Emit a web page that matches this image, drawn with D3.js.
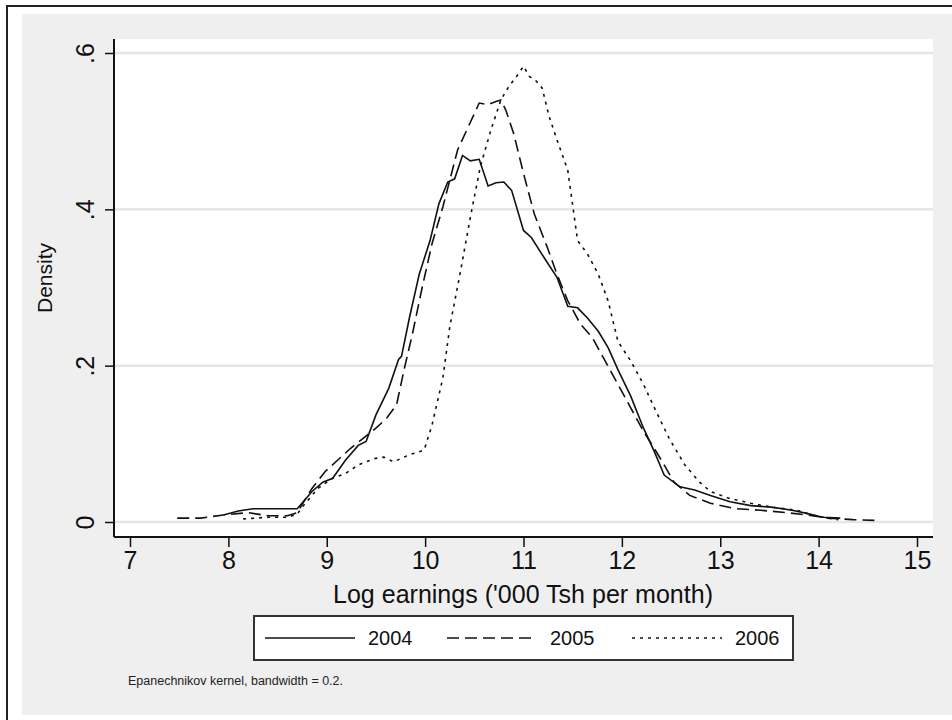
<!DOCTYPE html>
<html>
<head>
<meta charset="utf-8">
<script src="https://cdn.jsdelivr.net/npm/d3@7"></script>
<style>
  body { margin: 0; background: #fff; }
  svg { display: block; font-family: "Liberation Sans", Arial, sans-serif; }
</style>
</head>
<body>
<div id="app"></div>
<script>
// datos (log earnings -> density)
const x2004 = [7.95, 8.1, 8.25, 8.5, 8.7, 8.85, 8.96, 9.06, 9.19, 9.32, 9.40, 9.50, 9.63, 9.73, 9.76, 9.84, 9.94, 10.05, 10.14, 10.23, 10.30, 10.38, 10.46, 10.55, 10.64, 10.72, 10.80, 10.88, 11.00, 11.08, 11.21, 11.34, 11.45, 11.55, 11.65, 11.76, 11.86, 11.96, 12.09, 12.22, 12.33, 12.43, 12.59, 12.74, 12.90, 13.10, 13.31, 13.52, 13.73, 13.88, 14.04, 14.22]
const d2004 = [0.009, 0.014, 0.017, 0.017, 0.017, 0.039, 0.051, 0.056, 0.079, 0.098, 0.103, 0.137, 0.171, 0.208, 0.212, 0.261, 0.317, 0.360, 0.407, 0.435, 0.439, 0.469, 0.462, 0.464, 0.430, 0.434, 0.435, 0.424, 0.373, 0.364, 0.338, 0.313, 0.276, 0.274, 0.261, 0.244, 0.223, 0.195, 0.161, 0.120, 0.090, 0.060, 0.045, 0.041, 0.034, 0.026, 0.021, 0.019, 0.015, 0.011, 0.006, 0.005]

const x2005 = [7.48, 7.72, 7.95, 8.2, 8.4, 8.6, 8.7, 8.85, 8.98, 9.11, 9.24, 9.37, 9.50, 9.61, 9.71, 9.79, 9.87, 9.97, 10.07, 10.18, 10.25, 10.33, 10.44, 10.51, 10.55, 10.64, 10.72, 10.77, 10.82, 10.90, 11.00, 11.11, 11.24, 11.34, 11.45, 11.58, 11.70, 11.83, 11.96, 12.09, 12.22, 12.33, 12.43, 12.53, 12.69, 12.90, 13.16, 13.41, 13.67, 13.88, 14.09, 14.35, 14.58]
const d2005 = [0.005, 0.005, 0.009, 0.012, 0.008, 0.008, 0.012, 0.043, 0.064, 0.079, 0.094, 0.107, 0.120, 0.133, 0.150, 0.197, 0.240, 0.300, 0.356, 0.403, 0.437, 0.476, 0.506, 0.525, 0.536, 0.534, 0.538, 0.540, 0.527, 0.497, 0.446, 0.394, 0.352, 0.317, 0.283, 0.253, 0.236, 0.206, 0.176, 0.146, 0.116, 0.094, 0.073, 0.051, 0.034, 0.024, 0.017, 0.015, 0.012, 0.009, 0.005, 0.003, 0.002]

const x2006 = [8.15, 8.4, 8.6, 8.7, 8.75, 8.91, 9.06, 9.19, 9.32, 9.48, 9.58, 9.68, 9.84, 9.99, 10.07, 10.18, 10.25, 10.36, 10.46, 10.56, 10.67, 10.77, 10.85, 10.93, 11.00, 11.06, 11.13, 11.19, 11.26, 11.34, 11.45, 11.55, 11.65, 11.76, 11.86, 11.96, 12.09, 12.22, 12.35, 12.48, 12.64, 12.79, 12.90, 13.10, 13.31, 13.52, 13.78, 13.93, 14.09, 14.2]
const d2006 = [0.004, 0.006, 0.006, 0.010, 0.019, 0.043, 0.056, 0.062, 0.073, 0.081, 0.083, 0.077, 0.086, 0.092, 0.124, 0.184, 0.249, 0.321, 0.390, 0.454, 0.502, 0.540, 0.557, 0.570, 0.583, 0.570, 0.564, 0.555, 0.519, 0.489, 0.450, 0.360, 0.343, 0.317, 0.283, 0.231, 0.206, 0.176, 0.141, 0.107, 0.073, 0.051, 0.039, 0.030, 0.024, 0.019, 0.015, 0.009, 0.005, 0.003]

const xTicks = [7, 8, 9, 10, 11, 12, 13, 14, 15]
const yTicks = [0, 0.2, 0.4, 0.6]
const years = ['2004', '2005', '2006']
const dashes = [null, '12,6', '3,5']

const w = 952
const h = 720

const svg = d3.select('#app')
  .append('svg')
  .attr('width', w)
  .attr('height', h)

// marco exterior y fondo gris
svg.append('rect')
  .attr('x', 7).attr('y', 6)
  .attr('width', 990).attr('height', 740)
  .attr('fill', '#fff')
  .attr('stroke', '#222')
  .attr('stroke-width', 2)

svg.append('rect')
  .attr('x', 22).attr('y', 14)
  .attr('width', 940).attr('height', 701)
  .attr('fill', '#efefef')

// escalas
const xScale = d3.scaleLinear()
  .domain([7, 15])
  .range([130, 917])

const yScale = d3.scaleLinear()
  .domain([0, 0.6])
  .range([522, 53])

const plotLeft = 114
const plotRight = 933
const plotTop = 39
const plotBottom = 537

svg.append('rect')
  .attr('x', plotLeft).attr('y', plotTop)
  .attr('width', plotRight - plotLeft)
  .attr('height', plotBottom - plotTop)
  .attr('fill', '#fff')

// grid
svg.append('g')
  .selectAll('line')
  .data(yTicks)
  .enter()
  .append('line')
  .attr('x1', plotLeft)
  .attr('x2', plotRight)
  .attr('y1', d => yScale(d))
  .attr('y2', d => yScale(d))
  .attr('stroke', '#e6e6e6')
  .attr('stroke-width', 2.5)

// lineas
const series = [
  x2004.map((v, i) => [v, d2004[i]]),
  x2005.map((v, i) => [v, d2005[i]]),
  x2006.map((v, i) => [v, d2006[i]])
]

const line = d3.line()
  .x(d => xScale(d[0]))
  .y(d => yScale(d[1]))

svg.append('g')
  .selectAll('path')
  .data(series)
  .enter()
  .append('path')
  .attr('d', line)
  .attr('fill', 'none')
  .attr('stroke', '#111')
  .attr('stroke-width', 1.6)
  .attr('stroke-dasharray', (d, i) => dashes[i])

// ejes
const xAxis = d3.axisBottom(xScale)
  .tickValues(xTicks)
  .tickSize(10)
  .tickSizeOuter(0)
  .tickFormat(d3.format('d'))

const gx = svg.append('g')
  .attr('transform', `translate(0, ${plotBottom})`)
  .call(xAxis)
gx.select('.domain').remove()
gx.selectAll('line').attr('stroke', '#111').attr('stroke-width', 1.5)
gx.selectAll('text')
  .attr('fill', '#111')
  .attr('font-size', 25)
  .attr('y', 14)
  .attr('font-family', '"Liberation Sans", Arial, sans-serif')

svg.append('line')
  .attr('x1', plotLeft).attr('x2', plotRight)
  .attr('y1', plotBottom).attr('y2', plotBottom)
  .attr('stroke', '#111').attr('stroke-width', 2)

const yAxis = d3.axisLeft(yScale)
  .tickValues(yTicks)
  .tickSize(9)
  .tickSizeOuter(0)
  .tickFormat(d => d === 0 ? '0' : d3.format('.1f')(d).replace(/^0/, ''))

const gy = svg.append('g')
  .attr('transform', `translate(${plotLeft}, 0)`)
  .call(yAxis)
gy.select('.domain').remove()
gy.selectAll('line').attr('stroke', '#111').attr('stroke-width', 1.5)
gy.selectAll('text')
  .attr('fill', '#111')
  .attr('font-size', 25)
  .attr('font-family', '"Liberation Sans", Arial, sans-serif')
  .attr('x', null)
  .attr('dy', null)
  .attr('text-anchor', 'middle')
  .attr('transform', 'translate(-20, 0) rotate(-90)')

svg.append('line')
  .attr('x1', plotLeft).attr('x2', plotLeft)
  .attr('y1', plotTop).attr('y2', plotBottom)
  .attr('stroke', '#111').attr('stroke-width', 2)

// titulos de ejes
svg.append('text')
  .attr('x', 523)
  .attr('y', 603)
  .attr('text-anchor', 'middle')
  .attr('font-size', 25)
  .attr('fill', '#111')
  .attr('textLength', 380)
  .attr('lengthAdjust', 'spacingAndGlyphs')
  .text("Log earnings ('000 Tsh per month)")

svg.append('text')
  .attr('transform', 'translate(52, 278) rotate(-90)')
  .attr('text-anchor', 'middle')
  .attr('font-size', 21)
  .attr('fill', '#111')
  .text('Density')

// leyenda
const legend = svg.append('g')

legend.append('rect')
  .attr('x', 254).attr('y', 616)
  .attr('width', 539).attr('height', 44)
  .attr('fill', '#fff')
  .attr('stroke', '#333')
  .attr('stroke-width', 2)

const legendX = [265, 447, 632]

const items = legend.selectAll('g.item')
  .data(years)
  .enter()
  .append('g')
  .attr('class', 'item')
  .attr('transform', (d, i) => `translate(${legendX[i]}, 0)`)

items.append('line')
  .attr('x1', 0).attr('x2', 90)
  .attr('y1', 638).attr('y2', 638)
  .attr('stroke', '#111')
  .attr('stroke-width', 1.6)
  .attr('stroke-dasharray', (d, i) => dashes[i])

items.append('text')
  .attr('x', 103)
  .attr('y', 645)
  .attr('font-size', 20)
  .attr('fill', '#111')
  .text(d => d)

// nota
svg.append('text')
  .attr('x', 128)
  .attr('y', 685)
  .attr('font-size', 12)
  .attr('fill', '#222')
  .attr('textLength', 215)
  .attr('lengthAdjust', 'spacingAndGlyphs')
  .text('Epanechnikov kernel, bandwidth = 0.2.')
</script>
</body>
</html>
